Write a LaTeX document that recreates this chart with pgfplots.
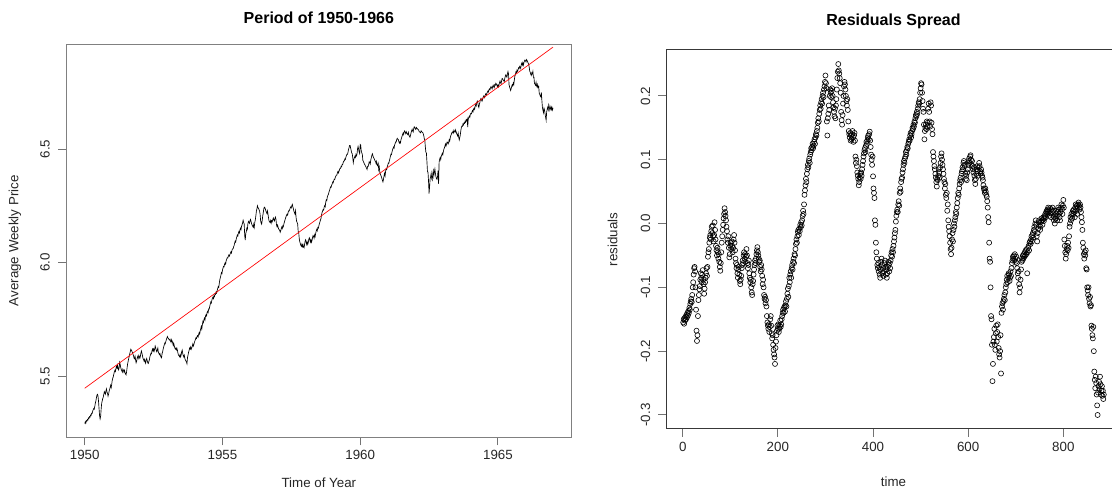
\documentclass[border=0pt]{standalone}
\usepackage{fontspec}
\setmainfont{Liberation Sans}
\usepackage{pgfplots}
\usepackage{pgfplotstable}
\pgfplotsset{compat=1.18}

% Weekly series 1950-1966: week index, average weekly (log) price, residual from the linear fit
\pgfplotstableread{
i price res
1 5.291 -0.155
2 5.298 -0.150
3 5.292 -0.157
4 5.303 -0.148
5 5.301 -0.152
6 5.308 -0.146
7 5.306 -0.150
8 5.315 -0.143
9 5.313 -0.147
10 5.321 -0.140
11 5.319 -0.144
12 5.328 -0.137
13 5.326 -0.140
14 5.336 -0.132
15 5.335 -0.135
16 5.345 -0.126
17 5.351 -0.122
18 5.357 -0.118
19 5.354 -0.123
20 5.366 -0.112
21 5.380 -0.100
22 5.390 -0.092
23 5.403 -0.080
24 5.415 -0.070
25 5.419 -0.068
26 5.413 -0.075
27 5.390 -0.100
28 5.357 -0.135
29 5.326 -0.168
30 5.311 -0.184
31 5.322 -0.175
32 5.354 -0.145
33 5.380 -0.120
34 5.390 -0.112
35 5.401 -0.103
36 5.407 -0.098
37 5.419 -0.088
38 5.431 -0.078
39 5.426 -0.085
40 5.420 -0.092
41 5.434 -0.080
42 5.443 -0.073
43 5.429 -0.088
44 5.424 -0.095
45 5.411 -0.110
46 5.420 -0.102
47 5.432 -0.092
48 5.441 -0.085
49 5.450 -0.078
50 5.459 -0.070
51 5.449 -0.082
52 5.465 -0.068
53 5.482 -0.052
54 5.491 -0.045
55 5.498 -0.040
56 5.509 -0.030
57 5.519 -0.022
58 5.525 -0.018
59 5.520 -0.025
60 5.534 -0.012
61 5.543 -0.005
62 5.535 -0.015
63 5.548 -0.003
64 5.533 -0.020
65 5.527 -0.028
66 5.538 -0.018
67 5.560 0.002
68 5.550 -0.010
69 5.537 -0.025
70 5.528 -0.035
71 5.523 -0.042
72 5.517 -0.050
73 5.530 -0.038
74 5.525 -0.045
75 5.517 -0.055
76 5.525 -0.048
77 5.515 -0.060
78 5.509 -0.068
79 5.505 -0.074
80 5.518 -0.062
81 5.537 -0.045
82 5.554 -0.030
83 5.565 -0.020
84 5.577 -0.010
85 5.587 -0.002
86 5.598 0.008
87 5.607 0.015
88 5.618 0.024
89 5.614 0.018
90 5.609 0.012
91 5.604 0.005
92 5.596 -0.005
93 5.590 -0.012
94 5.579 -0.025
95 5.576 -0.030
96 5.587 -0.020
97 5.571 -0.038
98 5.558 -0.053
99 5.565 -0.048
100 5.579 -0.035
101 5.586 -0.030
102 5.578 -0.040
103 5.591 -0.028
104 5.586 -0.035
105 5.578 -0.045
106 5.586 -0.038
107 5.601 -0.025
108 5.610 -0.018
109 5.600 -0.030
110 5.589 -0.042
111 5.578 -0.055
112 5.573 -0.062
113 5.566 -0.070
114 5.573 -0.065
115 5.562 -0.078
116 5.556 -0.085
117 5.571 -0.072
118 5.577 -0.068
119 5.567 -0.080
120 5.558 -0.090
121 5.555 -0.095
122 5.564 -0.088
123 5.571 -0.082
124 5.585 -0.070
125 5.592 -0.065
126 5.600 -0.058
127 5.598 -0.062
128 5.612 -0.050
129 5.619 -0.045
130 5.610 -0.055
131 5.619 -0.048
132 5.609 -0.060
133 5.618 -0.052
134 5.632 -0.040
135 5.624 -0.050
136 5.613 -0.062
137 5.607 -0.070
138 5.614 -0.065
139 5.623 -0.058
140 5.604 -0.078
141 5.599 -0.085
142 5.594 -0.092
143 5.599 -0.088
144 5.589 -0.100
145 5.583 -0.108
146 5.580 -0.112
147 5.599 -0.095
148 5.606 -0.090
149 5.618 -0.080
150 5.627 -0.072
151 5.636 -0.065
152 5.645 -0.058
153 5.642 -0.062
154 5.651 -0.055
155 5.660 -0.048
156 5.667 -0.042
157 5.674 -0.037
158 5.668 -0.045
159 5.665 -0.050
160 5.661 -0.055
161 5.658 -0.060
162 5.662 -0.058
163 5.653 -0.068
164 5.648 -0.075
165 5.660 -0.065
166 5.654 -0.072
167 5.646 -0.082
168 5.635 -0.095
169 5.644 -0.088
170 5.633 -0.100
171 5.623 -0.112
172 5.619 -0.118
173 5.623 -0.115
174 5.615 -0.125
175 5.622 -0.120
176 5.613 -0.130
177 5.600 -0.145
178 5.592 -0.155
179 5.589 -0.160
180 5.585 -0.165
181 5.594 -0.158
182 5.584 -0.170
183 5.593 -0.162
184 5.607 -0.150
185 5.614 -0.145
186 5.600 -0.160
187 5.590 -0.172
188 5.584 -0.180
189 5.591 -0.175
190 5.577 -0.190
191 5.571 -0.198
192 5.566 -0.205
193 5.562 -0.210
194 5.554 -0.220
195 5.581 -0.195
196 5.592 -0.185
197 5.604 -0.175
198 5.613 -0.168
199 5.623 -0.160
200 5.619 -0.165
201 5.628 -0.158
202 5.618 -0.170
203 5.624 -0.165
204 5.631 -0.160
205 5.641 -0.152
206 5.632 -0.162
207 5.638 -0.158
208 5.648 -0.150
209 5.655 -0.145
210 5.661 -0.140
211 5.668 -0.135
212 5.665 -0.140
213 5.674 -0.132
214 5.678 -0.130
215 5.672 -0.138
216 5.683 -0.128
217 5.691 -0.122
218 5.685 -0.130
219 5.699 -0.118
220 5.708 -0.110
221 5.718 -0.102
222 5.707 -0.115
223 5.725 -0.098
224 5.740 -0.085
225 5.735 -0.092
226 5.748 -0.080
227 5.755 -0.075
228 5.747 -0.085
229 5.764 -0.070
230 5.770 -0.065
231 5.765 -0.072
232 5.779 -0.060
233 5.785 -0.055
234 5.780 -0.062
235 5.796 -0.048
236 5.795 -0.050
237 5.807 -0.040
238 5.817 -0.032
239 5.826 -0.025
240 5.822 -0.030
241 5.834 -0.020
242 5.843 -0.013
243 5.847 -0.010
244 5.841 -0.018
245 5.853 -0.008
246 5.850 -0.012
247 5.862 -0.002
248 5.860 -0.006
249 5.870 0.002
250 5.866 -0.003
251 5.876 0.005
252 5.885 0.012
253 5.894 0.020
254 5.891 0.015
255 5.908 0.030
256 5.924 0.045
257 5.933 0.052
258 5.943 0.060
259 5.955 0.070
260 5.951 0.065
261 5.966 0.078
262 5.975 0.085
263 5.983 0.092
264 5.981 0.088
265 5.993 0.098
266 5.998 0.102
267 5.993 0.095
268 6.008 0.108
269 6.014 0.112
270 6.021 0.118
271 6.020 0.115
272 6.027 0.120
273 6.033 0.125
274 6.028 0.118
275 6.034 0.122
276 6.041 0.128
277 6.047 0.132
278 6.042 0.125
279 6.054 0.135
280 6.060 0.140
281 6.060 0.138
282 6.069 0.145
283 6.075 0.150
284 6.085 0.158
285 6.094 0.165
286 6.090 0.160
287 6.104 0.172
288 6.112 0.178
289 6.121 0.185
290 6.117 0.180
291 6.129 0.190
292 6.136 0.195
293 6.130 0.188
294 6.144 0.200
295 6.151 0.205
296 6.145 0.198
297 6.159 0.210
298 6.166 0.215
299 6.175 0.222
300 6.186 0.232
301 6.176 0.220
302 6.170 0.212
303 6.119 0.160
304 6.099 0.138
305 6.128 0.165
306 6.136 0.172
307 6.151 0.185
308 6.146 0.178
309 6.170 0.200
310 6.181 0.210
311 6.178 0.205
312 6.173 0.198
313 6.184 0.208
314 6.190 0.212
315 6.180 0.200
316 6.171 0.190
317 6.165 0.182
318 6.160 0.175
319 6.155 0.168
320 6.168 0.180
321 6.155 0.165
322 6.177 0.185
323 6.188 0.195
324 6.205 0.210
325 6.225 0.228
326 6.236 0.238
327 6.250 0.250
328 6.242 0.240
329 6.239 0.235
330 6.233 0.228
331 6.227 0.220
332 6.214 0.205
333 6.185 0.175
334 6.174 0.162
335 6.169 0.155
336 6.185 0.170
337 6.205 0.188
338 6.219 0.200
339 6.236 0.215
340 6.244 0.222
341 6.242 0.218
342 6.236 0.210
343 6.227 0.200
344 6.221 0.192
345 6.216 0.185
346 6.227 0.195
347 6.212 0.178
348 6.196 0.160
349 6.183 0.145
350 6.179 0.140
351 6.176 0.135
352 6.185 0.142
353 6.174 0.130
354 6.184 0.138
355 6.180 0.132
356 6.189 0.140
357 6.196 0.145
358 6.188 0.135
359 6.183 0.128
360 6.194 0.138
361 6.200 0.142
362 6.190 0.130
363 6.166 0.105
364 6.158 0.095
365 6.165 0.100
366 6.156 0.090
367 6.148 0.080
368 6.145 0.075
369 6.142 0.070
370 6.133 0.060
371 6.140 0.065
372 6.149 0.072
373 6.156 0.078
374 6.150 0.070
375 6.162 0.080
376 6.158 0.075
377 6.170 0.085
378 6.179 0.092
379 6.187 0.098
380 6.195 0.105
381 6.202 0.110
382 6.209 0.115
383 6.213 0.118
384 6.209 0.112
385 6.221 0.122
386 6.228 0.128
387 6.227 0.125
388 6.234 0.130
389 6.241 0.135
390 6.245 0.138
391 6.241 0.132
392 6.251 0.140
393 6.256 0.144
394 6.244 0.130
395 6.236 0.120
396 6.225 0.108
397 6.219 0.100
398 6.213 0.092
399 6.228 0.105
400 6.198 0.074
401 6.181 0.055
402 6.176 0.048
403 6.169 0.040
404 6.136 0.005
405 6.131 -0.002
406 6.104 -0.030
407 6.091 -0.045
408 6.083 -0.055
409 6.075 -0.065
410 6.071 -0.070
411 6.081 -0.062
412 6.070 -0.075
413 6.078 -0.068
414 6.068 -0.080
415 6.065 -0.085
416 6.079 -0.072
417 6.093 -0.060
418 6.100 -0.055
419 6.092 -0.065
420 6.080 -0.078
421 6.090 -0.070
422 6.080 -0.082
423 6.088 -0.075
424 6.103 -0.062
425 6.109 -0.058
426 6.100 -0.068
427 6.090 -0.080
428 6.100 -0.072
429 6.089 -0.085
430 6.097 -0.078
431 6.109 -0.068
432 6.119 -0.060
433 6.115 -0.065
434 6.107 -0.075
435 6.122 -0.062
436 6.115 -0.070
437 6.129 -0.058
438 6.139 -0.050
439 6.146 -0.045
440 6.140 -0.052
441 6.154 -0.040
442 6.151 -0.045
443 6.162 -0.035
444 6.171 -0.028
445 6.179 -0.022
446 6.187 -0.015
447 6.194 -0.010
448 6.209 0.003
449 6.220 0.012
450 6.227 0.018
451 6.233 0.022
452 6.231 0.018
453 6.244 0.030
454 6.251 0.035
455 6.246 0.028
456 6.267 0.048
457 6.276 0.055
458 6.273 0.050
459 6.290 0.065
460 6.296 0.070
461 6.300 0.072
462 6.310 0.080
463 6.316 0.085
464 6.325 0.092
465 6.333 0.098
466 6.331 0.095
467 6.340 0.102
468 6.345 0.105
469 6.354 0.112
470 6.351 0.108
471 6.360 0.115
472 6.367 0.120
473 6.366 0.118
474 6.375 0.125
475 6.380 0.128
476 6.385 0.132
477 6.385 0.130
478 6.395 0.138
479 6.401 0.142
480 6.395 0.135
481 6.402 0.140
482 6.409 0.145
483 6.415 0.150
484 6.415 0.148
485 6.424 0.155
486 6.422 0.152
487 6.432 0.160
488 6.432 0.158
489 6.441 0.165
490 6.447 0.170
491 6.447 0.168
492 6.456 0.175
493 6.454 0.172
494 6.464 0.180
495 6.471 0.185
496 6.477 0.190
497 6.477 0.188
498 6.486 0.195
499 6.498 0.205
500 6.506 0.212
501 6.516 0.220
502 6.516 0.218
503 6.504 0.205
504 6.493 0.192
505 6.483 0.180
506 6.479 0.175
507 6.461 0.155
508 6.440 0.132
509 6.455 0.145
510 6.461 0.150
511 6.468 0.155
512 6.463 0.148
513 6.476 0.160
514 6.470 0.152
515 6.478 0.158
516 6.501 0.180
517 6.511 0.188
518 6.500 0.175
519 6.487 0.160
520 6.480 0.152
521 6.520 0.190
522 6.517 0.185
523 6.491 0.158
524 6.483 0.148
525 6.477 0.140
526 6.450 0.112
527 6.445 0.105
528 6.440 0.098
529 6.434 0.090
530 6.430 0.085
531 6.425 0.078
532 6.421 0.072
533 6.415 0.065
534 6.410 0.058
535 6.424 0.070
536 6.423 0.068
537 6.432 0.075
538 6.444 0.085
539 6.441 0.080
540 6.434 0.072
541 6.452 0.088
542 6.461 0.095
543 6.472 0.105
544 6.479 0.110
545 6.471 0.100
546 6.464 0.092
547 6.459 0.085
548 6.454 0.078
549 6.448 0.070
550 6.444 0.065
551 6.436 0.055
552 6.445 0.062
553 6.429 0.045
554 6.426 0.040
555 6.436 0.048
556 6.409 0.020
557 6.421 0.030
558 6.398 0.005
559 6.390 -0.005
560 6.384 -0.012
561 6.378 -0.020
562 6.370 -0.030
563 6.361 -0.040
564 6.355 -0.048
565 6.367 -0.038
566 6.381 -0.025
567 6.393 -0.015
568 6.382 -0.028
569 6.402 -0.010
570 6.413 0.000
571 6.410 -0.005
572 6.422 0.005
573 6.428 0.010
574 6.438 0.018
575 6.437 0.015
576 6.448 0.025
577 6.457 0.032
578 6.467 0.040
579 6.477 0.048
580 6.475 0.045
581 6.487 0.055
582 6.496 0.062
583 6.503 0.068
584 6.509 0.072
585 6.504 0.065
586 6.518 0.078
587 6.524 0.082
588 6.532 0.088
589 6.531 0.085
590 6.542 0.095
591 6.547 0.098
592 6.543 0.092
593 6.542 0.090
594 6.532 0.078
595 6.526 0.070
596 6.532 0.075
597 6.527 0.068
598 6.541 0.080
599 6.548 0.085
600 6.556 0.092
601 6.564 0.098
602 6.570 0.102
603 6.564 0.095
604 6.576 0.105
605 6.580 0.107
606 6.574 0.100
607 6.568 0.092
608 6.576 0.098
609 6.570 0.090
610 6.566 0.085
611 6.563 0.080
612 6.573 0.088
613 6.561 0.075
614 6.556 0.068
615 6.552 0.062
616 6.561 0.070
617 6.571 0.078
618 6.580 0.085
619 6.587 0.090
620 6.580 0.082
621 6.575 0.075
622 6.590 0.088
623 6.598 0.095
624 6.595 0.090
625 6.589 0.082
626 6.586 0.078
627 6.595 0.085
628 6.592 0.080
629 6.589 0.075
630 6.587 0.072
631 6.585 0.068
632 6.579 0.060
633 6.575 0.055
634 6.574 0.052
635 6.572 0.048
636 6.580 0.055
637 6.577 0.050
638 6.574 0.045
639 6.573 0.042
640 6.567 0.035
641 6.559 0.025
642 6.546 0.010
643 6.539 0.002
644 6.509 -0.030
645 6.486 -0.055
646 6.482 -0.060
647 6.444 -0.100
648 6.401 -0.145
649 6.398 -0.150
650 6.359 -0.190
651 6.304 -0.247
652 6.333 -0.220
653 6.369 -0.185
654 6.378 -0.178
655 6.393 -0.165
656 6.369 -0.190
657 6.363 -0.198
658 6.391 -0.172
659 6.405 -0.160
660 6.381 -0.185
661 6.398 -0.170
662 6.412 -0.158
663 6.393 -0.178
664 6.378 -0.195
665 6.370 -0.205
666 6.366 -0.210
667 6.378 -0.200
668 6.405 -0.175
669 6.347 -0.235
670 6.443 -0.140
671 6.455 -0.130
672 6.462 -0.125
673 6.453 -0.135
674 6.468 -0.122
675 6.474 -0.118
676 6.481 -0.112
677 6.475 -0.120
678 6.489 -0.108
679 6.499 -0.100
680 6.505 -0.095
681 6.514 -0.088
682 6.522 -0.082
683 6.513 -0.092
684 6.522 -0.085
685 6.531 -0.078
686 6.530 -0.080
687 6.522 -0.090
688 6.529 -0.085
689 6.541 -0.075
690 6.535 -0.082
691 6.549 -0.070
692 6.559 -0.062
693 6.564 -0.058
694 6.572 -0.052
695 6.571 -0.055
696 6.577 -0.050
697 6.571 -0.058
698 6.583 -0.048
699 6.578 -0.055
700 6.574 -0.060
701 6.584 -0.052
702 6.576 -0.062
703 6.569 -0.070
704 6.563 -0.078
705 6.558 -0.085
706 6.569 -0.075
707 6.551 -0.095
708 6.540 -0.108
709 6.550 -0.100
710 6.563 -0.088
711 6.581 -0.072
712 6.595 -0.060
713 6.601 -0.055
714 6.600 -0.058
715 6.610 -0.050
716 6.606 -0.055
717 6.615 -0.048
718 6.613 -0.052
719 6.622 -0.045
720 6.618 -0.050
721 6.628 -0.042
722 6.624 -0.048
723 6.633 -0.040
724 6.597 -0.078
725 6.632 -0.045
726 6.640 -0.038
727 6.645 -0.035
728 6.640 -0.042
729 6.654 -0.030
730 6.657 -0.028
731 6.655 -0.032
732 6.664 -0.025
733 6.670 -0.020
734 6.664 -0.028
735 6.676 -0.018
736 6.680 -0.015
737 6.675 -0.022
738 6.689 -0.010
739 6.696 -0.005
740 6.690 -0.012
741 6.704 0.000
742 6.711 0.005
743 6.705 -0.002
744 6.689 -0.020
745 6.683 -0.028
746 6.697 -0.015
747 6.706 -0.008
748 6.718 0.002
749 6.723 0.005
750 6.716 -0.003
751 6.711 -0.010
752 6.718 -0.005
753 6.727 0.003
754 6.734 0.008
755 6.733 0.005
756 6.727 -0.002
757 6.737 0.006
758 6.743 0.010
759 6.739 0.004
760 6.744 0.008
761 6.750 0.012
762 6.755 0.015
763 6.751 0.010
764 6.761 0.018
765 6.765 0.020
766 6.761 0.015
767 6.770 0.022
768 6.775 0.025
769 6.770 0.018
770 6.765 0.012
771 6.775 0.020
772 6.781 0.024
773 6.774 0.016
774 6.770 0.010
775 6.784 0.022
776 6.781 0.018
777 6.790 0.025
778 6.787 0.020
779 6.781 0.012
780 6.775 0.005
781 6.782 0.010
782 6.774 0.000
783 6.783 0.008
784 6.792 0.015
785 6.799 0.020
786 6.792 0.012
787 6.787 0.005
788 6.802 0.018
789 6.811 0.025
790 6.809 0.022
791 6.804 0.015
792 6.801 0.010
793 6.797 0.005
794 6.812 0.018
795 6.821 0.025
796 6.827 0.030
797 6.821 0.022
798 6.816 0.015
799 6.831 0.028
800 6.841 0.037
801 6.831 0.025
802 6.783 -0.025
803 6.774 -0.035
804 6.766 -0.045
805 6.758 -0.055
806 6.766 -0.048
807 6.776 -0.040
808 6.783 -0.035
809 6.778 -0.042
810 6.791 -0.030
811 6.785 -0.038
812 6.805 -0.020
813 6.821 -0.005
814 6.828 0.000
815 6.840 0.010
816 6.836 0.005
817 6.848 0.015
818 6.843 0.008
819 6.849 0.012
820 6.858 0.020
821 6.855 0.015
822 6.864 0.022
823 6.861 0.018
824 6.855 0.010
825 6.872 0.025
826 6.878 0.030
827 6.870 0.020
828 6.880 0.028
829 6.869 0.015
830 6.880 0.025
831 6.887 0.030
832 6.892 0.033
833 6.888 0.028
834 6.884 0.022
835 6.894 0.030
836 6.890 0.025
837 6.885 0.018
838 6.879 0.010
839 6.873 0.002
840 6.862 -0.010
841 6.844 -0.030
842 6.838 -0.038
843 6.829 -0.048
844 6.824 -0.055
845 6.836 -0.045
846 6.832 -0.050
847 6.842 -0.042
848 6.816 -0.070
849 6.816 -0.072
850 6.789 -0.100
851 6.786 -0.105
852 6.781 -0.112
853 6.794 -0.100
854 6.778 -0.118
855 6.773 -0.125
856 6.784 -0.115
857 6.771 -0.130
858 6.775 -0.128
859 6.745 -0.160
860 6.741 -0.165
861 6.733 -0.175
862 6.730 -0.180
863 6.749 -0.162
864 6.713 -0.200
865 6.683 -0.232
866 6.671 -0.245
867 6.660 -0.258
868 6.680 -0.240
869 6.672 -0.250
870 6.655 -0.268
871 6.640 -0.285
872 6.627 -0.300
873 6.663 -0.265
874 6.675 -0.255
875 6.684 -0.248
876 6.673 -0.260
877 6.695 -0.240
878 6.685 -0.252
879 6.671 -0.268
880 6.678 -0.262
881 6.687 -0.255
882 6.674 -0.270
883 6.683 -0.262
884 6.672 -0.275
885 6.681 -0.268
}\weekly

% Fitted linear trend at the first and last week
\pgfplotstableread{
i fit
1 5.446
885 6.949
}\trend

\pgfplotsset{
  rbase/.style={
    scale only axis,
    anchor=south west,
    tick align=outside,
    major tick length=6pt,
    xtick pos=lower,
    ytick pos=left,
    tick style={line width=0.7pt, black!55},
    axis line style={line width=0.75pt},
    tick label style={font=\fontsize{10}{12}\selectfont, text=black!85},
    yticklabel style={xshift=-2.6pt, rotate=90, anchor=south},
    label style={font=\fontsize{10}{12}\selectfont, text=black!85},
    title style={font=\bfseries\fontsize{12}{14}\selectfont, at={(0.5,1)}, anchor=center},
    /pgf/number format/assume math mode=true,
  },
  xlab/.style={xlabel style={at={(0.5,0)}, anchor=center, yshift=-#1}},
  ylab/.style={every axis y label/.style={at={(0,0.5)}, xshift=-#1, rotate=90, anchor=center, font=\fontsize{10}{12}\selectfont, text=black!85}},
}

\begin{document}
\begin{tikzpicture}
\path[use as bounding box, clip] (0pt,0pt) rectangle (834pt,368.25pt);

% Left panel: weekly price with the fitted trend
\begin{axis}[rbase,
  at={(49.5pt,40.125pt)}, width=379.3pt, height=295.1pt,
  xmin=-34.36, xmax=920.36, ymin=5.229, ymax=6.9626,
  xtick={1,261,521,781}, xticklabels={1950,1955,1960,1965},
  ytick={5.5,6.0,6.5}, yticklabels={5.5,6.0,6.5},
  axis line style={black!50},
  title={Period of 1950-1966}, title style={yshift=13.6pt},
  xlabel={Time of Year}, xlab=34.1pt,
  ylabel={Average Weekly Price}, ylab=38.3pt,
]
\addplot[black, line width=0.5pt] table[x=i, y=price] {\weekly};
\addplot[red, line width=0.5pt] table[x=i, y=fit] {\trend};
\end{axis}

% Right panel: residuals against week index
\begin{axis}[rbase,
  at={(499.76pt,46.5pt)}, width=340.7pt, height=284.25pt,
  xmin=-34.36, xmax=920.36, ymin=-0.322, ymax=0.272,
  xtick={0,200,400,600,800}, xticklabels={0,200,400,600,800},
  ytick={-0.3,-0.2,-0.1,0,0.1,0.2}, yticklabels={-0.3,-0.2,-0.1,0.0,0.1,0.2},
  axis line style={black!78},
  title={Residuals Spread}, title style={yshift=15.5pt},
  xlabel={time}, xlab=39.5pt,
  ylabel={residuals}, ylab=40.3pt,
]
\addplot[only marks, mark=o, mark size=1.9pt, black, mark options={line width=0.45pt}]
  table[x=i, y=res] {\weekly};
\end{axis}
\end{tikzpicture}
\end{document}
